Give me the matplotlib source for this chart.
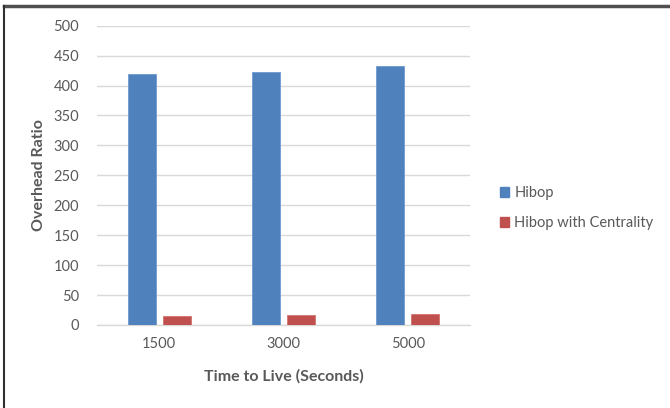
import matplotlib
matplotlib.use("Agg")
import matplotlib.pyplot as plt
from matplotlib.lines import Line2D
from matplotlib.patches import Patch
import numpy as np

plt.rcParams['font.family'] = ['Lato', 'DejaVu Sans']

categories = ["1500", "3000", "5000"]
hibop = [420, 422, 432]
hibop_centrality = [15, 17, 19]
series_names = ["Hibop", "Hibop with Centrality"]
colors = ["#4f81bd", "#c0504d"]
yticks = [0, 50, 100, 150, 200, 250, 300, 350, 400, 450, 500]

text_color = "#595959"

fig = plt.figure(figsize=(6.7, 4.08), dpi=100)
ax = fig.add_axes([97 / 670, 83 / 408, 373 / 670, 299.3 / 408])

x = np.arange(len(categories))
w = 0.225
off = 0.14
ax.bar(x - off, hibop, width=w, color=colors[0], edgecolor="#6d9bd1", linewidth=0.6, zorder=3)
ax.bar(x + off, hibop_centrality, width=w, color=colors[1], edgecolor="#d47370", linewidth=0.6, zorder=3)

ax.set_xlim(-0.5, len(categories) - 0.5)
ax.set_ylim(0, 500)
ax.set_yticks(yticks)
ax.set_xticks(x)
ax.set_xticklabels(categories)
ax.yaxis.grid(True, color="#d9d9d9", linewidth=1.0, zorder=0)
ax.set_axisbelow(True)
for s in ["top", "right", "left"]:
    ax.spines[s].set_visible(False)
ax.spines["bottom"].set_color("#d9d9d9")
ax.spines["bottom"].set_linewidth(1.0)
ax.tick_params(axis="both", length=0, labelsize=10.5, colors=text_color)
ax.tick_params(axis="y", pad=13)
ax.tick_params(axis="x", pad=9)

ax.set_ylabel("Overhead Ratio", fontsize=11.5, fontweight="bold", color=text_color)
ax.yaxis.set_label_coords(-0.137, 0.5)
ax.set_xlabel("Time to Live (Seconds)", fontsize=11.5, fontweight="bold", color=text_color, labelpad=13)

handles = [Patch(facecolor=c, edgecolor=c) for c in colors]
fig.legend(handles, series_names, loc="upper left", bbox_to_anchor=(494 / 670, 1 - 180 / 408),
           frameon=False, fontsize=10.5, labelcolor=text_color, handlelength=0.65, handleheight=0.65,
           handletextpad=0.35, labelspacing=1.1, borderaxespad=0)

# outer frame: top and left edges
fig.add_artist(Line2D([4 / 670, 1.0], [1 - 5.5 / 408, 1 - 5.5 / 408], transform=fig.transFigure,
                      color="#505050", linewidth=2.5))
fig.add_artist(Line2D([4 / 670, 4 / 670], [0, 1 - 5.5 / 408], transform=fig.transFigure,
                      color="#303030", linewidth=1.5))

fig.savefig("out.png", dpi=100)
